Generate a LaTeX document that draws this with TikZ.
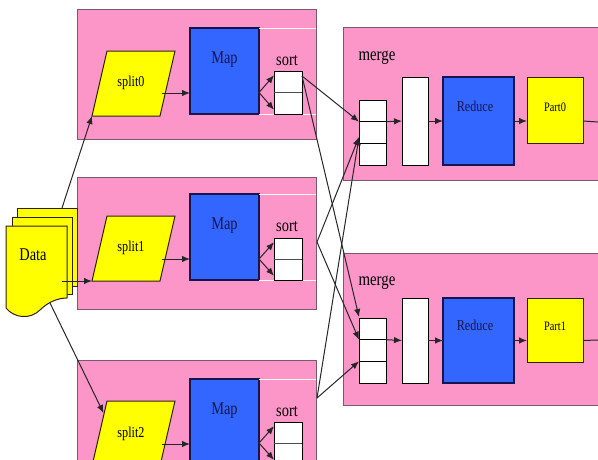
\documentclass[tikz,border=0pt]{standalone}
\usepackage{fontspec}
\setmainfont{Liberation Serif}
\usepackage{graphicx}
\usetikzlibrary{arrows.meta,calc}
\definecolor{pinkbg}{HTML}{FC96C8}
\definecolor{mapblue}{HTML}{3366FF}
\definecolor{ylw}{HTML}{FFFF00}
\definecolor{navy}{HTML}{16164E}
\definecolor{pinkline}{HTML}{7A5A6A}
\newcommand{\txt}[2]{\scalebox{0.9}[1.12]{\fontsize{#1}{#1}\selectfont #2}}
\newcommand{\boxat}[6]{\node[#1, anchor=north west, inner sep=0pt, outer sep=0pt, minimum width={#5-#3}, minimum height={#6-#4}] (#2) at (#3,#4) {};}
\begin{document}
\begin{tikzpicture}[x=1pt, y=-1pt,
  pinkbox/.style={fill=pinkbg, draw=pinkline, line width=0.7pt},
  bluebox/.style={fill=mapblue, draw=navy, line width=1.1pt},
  whitebox/.style={fill=white, draw=black, line width=1pt},
  ylwbox/.style={fill=ylw, draw=black!75!brown, line width=1pt},
  conn/.style={-{Latex[length=8pt,width=6.5pt]}, line width=1pt, draw=black!85},
  plain/.style={line width=1pt, draw=black!85},
  lbl/.style={inner sep=0pt}]
\useasboundingbox (0,0) rectangle (598,459);
\clip (0,0) rectangle (598,459);
% map-side pink boxes
\boxat{pinkbox}{pb0}{77}{9}{316}{139}
\boxat{pinkbox}{pb1}{77}{177}{316}{309}
\boxat{pinkbox}{pb2}{77}{360}{316}{480}
% merge pink boxes
\boxat{pinkbox}{mb0}{343}{27}{600}{180}
\boxat{pinkbox}{mb1}{343}{253}{600}{405}
% Map boxes
\boxat{bluebox}{m0}{190}{28}{259}{114}
\boxat{bluebox}{m1}{190}{194}{259}{280}
\boxat{bluebox}{m2}{190}{379}{259}{465}
\node[lbl, text=navy] (ml0) at ($(m0.north)+(0,32)$) {\txt{16}{Map}};
\node[lbl, text=navy] (ml1) at ($(m1.north)+(0,32)$) {\txt{16}{Map}};
\node[lbl, text=navy] (ml2) at ($(m2.north)+(0,32)$) {\txt{16}{Map}};
% white outline lines beside Map
\foreach \m in {m0,m1,m2}{
  \draw[white, line width=0.9pt] (\m.north east) -- (\m.north east -| pb0.east);
  \draw[white, line width=0.9pt] (\m.south east) -- (\m.south east -| pb0.east);
}
% sort boxes
\boxat{whitebox}{s0}{274}{71}{302}{114}
\boxat{whitebox}{s1}{274}{238}{302}{280}
\boxat{whitebox}{s2}{274}{422}{302}{464}
\foreach \s in {s0,s1,s2}{\draw[line width=0.9pt, black!70] (\s.west) -- (\s.east);}
\node[lbl] (sl0) at (287,61) {\txt{16}{sort}};
\node[lbl] (sl1) at (287,227) {\txt{16}{sort}};
\node[lbl] (sl2) at (287,412) {\txt{16}{sort}};
% splits (parallelograms)
\coordinate (sp0bl) at (92,116); \coordinate (sp1bl) at (92,281); \coordinate (sp2bl) at (92,466);
\draw[ylwbox] (sp0bl) -- (107,51) -- (175,51) -- (160,116) -- cycle;
\draw[ylwbox] (sp1bl) -- (107,216) -- (175,216) -- (160,281) -- cycle;
\draw[ylwbox] (sp2bl) -- (107,401) -- (175,401) -- (160,466) -- cycle;
\node[lbl] (sp0) at (131,83) {\txt{13.5}{split0}};
\node[lbl] (sp1) at (131,248) {\txt{13.5}{split1}};
\node[lbl] (sp2) at (131,434) {\txt{13.5}{split2}};
\coordinate (sp0out) at (162,93);
\coordinate (sp1out) at (162,259);
\coordinate (sp2out) at (162,444);
\coordinate (sp2in) at (103.5,413);
% Data document
\draw[ylwbox] (17,208) rectangle (77,286);
\draw[ylwbox] (12,217) rectangle (72,294);
\draw[ylwbox] (6,226) -- (67,226) -- (67,298) .. controls (58,298) and (48,302) .. (40,310) .. controls (30,320) and (14,318) .. (6,308) -- cycle;
\node[lbl] (data) at (33,255) {\txt{16}{Data}};
\coordinate (dA) at (62,208);
\coordinate (dB) at (62,281);
\coordinate (dC) at (50,303);
% merge contents
\boxat{whitebox}{st0}{359}{100}{386}{165}
\boxat{whitebox}{st1}{359}{318}{386}{383}
\foreach \s in {st0,st1}{
  \draw[line width=0.9pt] ($(\s.north west)!1/3!(\s.south west)$) -- ($(\s.north east)!1/3!(\s.south east)$);
  \draw[line width=0.9pt] ($(\s.north west)!2/3!(\s.south west)$) -- ($(\s.north east)!2/3!(\s.south east)$);
}
\boxat{whitebox}{w0}{402}{77}{428}{165}
\boxat{whitebox}{w1}{402}{298}{428}{383}
\boxat{bluebox}{r0}{443}{77}{514}{165}
\boxat{bluebox}{r1}{443}{298}{514}{383}
\boxat{ylwbox}{pt0}{527}{77}{583}{143}
\boxat{ylwbox}{pt1}{527}{298}{583}{362}
\node[lbl, text=navy] (rl0) at (475,106) {\txt{13.5}{Reduce}};
\node[lbl, text=navy] (rl1) at (475,325) {\txt{13.5}{Reduce}};
\node[lbl] (pl0) at (555,107) {\txt{11.5}{Part0}};
\node[lbl] (pl1) at (555,326) {\txt{11.5}{Part1}};
\node[lbl] (mg0) at (377,58) {\txt{16.5}{merge}};
\node[lbl] (mg1) at (377,283) {\txt{16.5}{merge}};
\coordinate (o0) at (598,122);
\coordinate (o1) at (598,340);
% merge row arrows
\draw[conn] ($(st0.north east)!1/3!(st0.south east)$) -- (w0.west);
\draw[conn] (w0.east) -- (r0.west);
\draw[conn] (r0.east) -- (r0.east -| pt0.west);
\draw[plain] (r0.east -| pt0.east) -- (o0);
\draw[conn] ($(st1.north east)!1/3!(st1.south east)$) -- (w1.west);
\draw[conn] (w1.east) -- (r1.west);
\draw[conn] (r1.east) -- (r1.east -| pt1.west);
\draw[plain] (r1.east -| pt1.east) -- (o1);
% split -> map
\draw[conn] (sp0out) -- (sp0out -| m0.west);
\draw[conn] (sp1out) -- (sp1out -| m1.west);
\draw[conn] (sp2out) -- (sp2out -| m2.west);
% map -> sort
\foreach \m/\s in {m0/s0,m1/s1,m2/s2}{
  \draw[conn] (\m.east |- \s.west) -- ($(\s.north west)!0.1!(\s.south west)$);
  \draw[conn] (\m.east |- \s.west) -- ($(\s.north west)!0.9!(\s.south west)$);
}
% data -> splits
\draw[conn] (dA) -- (sp0bl);
\draw[conn] (dB) -- (sp1bl);
\draw[conn] (dC) -- (sp2in);
% shuffle
\coordinate (e0) at (302,76);
\coordinate (e1) at (317,242);
\coordinate (e2) at (317,398);
\coordinate (t0a) at ($(st0.north west)!1/3!(st0.south west)$);
\coordinate (t0b) at ($(st0.north west)!0.57!(st0.south west)$);
\coordinate (t1a) at ($(st1.north west)+(0,-1)$);
\coordinate (t1b) at ($(st1.north west)!1/3!(st1.south west)$);
\coordinate (t1c) at ($(st1.north west)!2/3!(st1.south west)$);
\draw[conn] (e0) -- (t0a);
\draw[conn] (e0) -- (t1a);
\draw[conn] (e1) -- (t0b);
\draw[conn] (e1) -- (t1b);
\draw[conn] (e2) -- (t0b);
\draw[conn] (e2) -- (t1c);
\end{tikzpicture}
\end{document}
